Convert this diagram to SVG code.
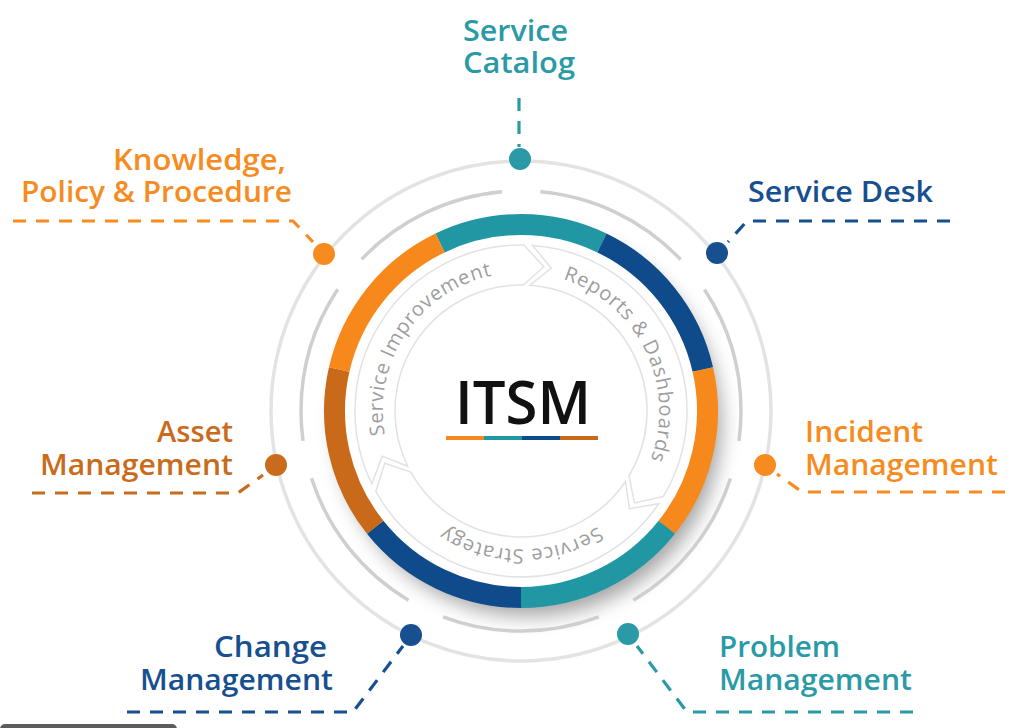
<svg xmlns="http://www.w3.org/2000/svg" width="1024" height="728" viewBox="0 0 1024 728">
<style>
.lbl{font-family:"Open Sans","Liberation Sans",sans-serif;font-size:28px;font-weight:600}
.teal{fill:#2a9aa6}.blue{fill:#174f8f}.orange{fill:#f68c1f}.brown{fill:#c96b1c}
.con{fill:none;stroke-width:3.2;stroke-dasharray:13 10}
.ctext{font-family:"Open Sans","Liberation Sans",sans-serif;font-size:20px;fill:#9d9d9d}
.arrow{fill:none;stroke:#e2e2e2;stroke-width:1.5}
.seg{fill:none;stroke-width:21}
</style>
<defs>
<filter id="sh" x="-30%" y="-30%" width="160%" height="160%"><feGaussianBlur stdDeviation="10"/></filter>
<path id="cpath" d="M401.49,480 A138,138 0 1 1 640.51,342 A138,138 0 1 1 401.49,480"/>
</defs>
<rect width="1024" height="728" fill="#ffffff"/>

<g id="background-rings">
<circle cx="521" cy="411" r="250" fill="none" stroke="#e3e3e3" stroke-width="3.5"/>
<circle cx="529" cy="424" r="192" fill="#000" opacity="0.36" filter="url(#sh)"/>
<path d="M741,411 A220,220 0 1 1 301,411 A220,220 0 1 1 741,411" fill="none" stroke="#cfcfcf" stroke-width="3.5" stroke-dasharray="159.07 38.4" stroke-dashoffset="128.9"/>
</g>

<g id="hub">
<circle cx="521" cy="411" r="180" fill="#ffffff"/>
<path class="seg" stroke="#2297a4" d="M440.08,242.97 A186.5,186.5 0 0 1 601.92,242.97"/>
<path class="seg" stroke="#0f4a8a" d="M601.92,242.97 A186.5,186.5 0 0 1 702.82,369.5"/>
<path class="seg" stroke="#f7891c" d="M702.82,369.5 A186.5,186.5 0 0 1 666.81,527.28"/>
<path class="seg" stroke="#2297a4" d="M666.81,527.28 A186.5,186.5 0 0 1 521,597.5"/>
<path class="seg" stroke="#0f4a8a" d="M521,597.5 A186.5,186.5 0 0 1 375.19,527.28"/>
<path class="seg" stroke="#c86a1a" d="M375.19,527.28 A186.5,186.5 0 0 1 339.18,369.5"/>
<path class="seg" stroke="#f7891c" d="M339.18,369.5 A186.5,186.5 0 0 1 440.08,242.97"/>
<path class="arrow" d="M371.8,483.77 A166,166 0 0 1 523.9,245.03 L543.84,266.8 L523.2,285.02 A126,126 0 0 0 407.75,466.23 L382.15,456.12 Z"/>
<path class="arrow" d="M532.58,245.4 A166,166 0 0 1 663.29,496.5 L634.46,502.88 L629,475.89 A126,126 0 0 0 529.79,285.31 L551.36,268.19 Z"/>
<path class="arrow" d="M658.62,503.83 A166,166 0 0 1 375.81,491.48 L384.7,463.32 L410.8,472.09 A126,126 0 0 0 625.46,481.46 L629.5,508.69 Z"/>
<text class="ctext" textLength="212" lengthAdjust="spacing"><textPath href="#cpath" startOffset="48.2">Service Improvement</textPath></text>
<text class="ctext" textLength="224" lengthAdjust="spacing"><textPath href="#cpath" startOffset="332.4">Reports &amp; Dashboards</textPath></text>
<text class="ctext" textLength="161" lengthAdjust="spacing"><textPath href="#cpath" startOffset="643.1">Service Strategy</textPath></text>
<text x="455" y="424" textLength="136" lengthAdjust="spacingAndGlyphs" font-family="'Open Sans','Liberation Sans',sans-serif" font-size="60" font-weight="600" fill="#111111">ITSM</text>
<g stroke-width="4">
<line x1="446" y1="438" x2="484" y2="438" stroke="#f7891c"/>
<line x1="484" y1="438" x2="522" y2="438" stroke="#2297a4"/>
<line x1="522" y1="438" x2="560" y2="438" stroke="#0f4a8a"/>
<line x1="560" y1="438" x2="598" y2="438" stroke="#c86a1a"/>
</g>
</g>

<g id="connectors">
<path class="con" stroke="#2a9aa6" d="M519,98 V147"/>
<path class="con" stroke="#174f8f" d="M950,221 H747 L728,242"/>
<path class="con" stroke="#f68c1f" d="M1005,492 H802 L777,474"/>
<path class="con" stroke="#2a9aa6" d="M913,712 H687 L637,646"/>
<path class="con" stroke="#174f8f" d="M127,712 H353 L403,646"/>
<path class="con" stroke="#c96b1c" d="M32,493 H238 L263,475"/>
<path class="con" stroke="#f68c1f" d="M13,221 H293 L313,242"/>
</g>

<g id="service-catalog">
<circle cx="520" cy="159" r="11" class="teal"/>
<text class="lbl teal" x="463" y="41" textLength="105" lengthAdjust="spacingAndGlyphs">Service</text>
<text class="lbl teal" x="463" y="73" textLength="112" lengthAdjust="spacingAndGlyphs">Catalog</text>
</g>
<g id="service-desk">
<circle cx="717" cy="253" r="11" class="blue"/>
<text class="lbl blue" x="748" y="202" textLength="185" lengthAdjust="spacingAndGlyphs">Service Desk</text>
</g>
<g id="incident-management">
<circle cx="765" cy="465" r="11" class="orange"/>
<text class="lbl orange" x="805" y="442" textLength="118" lengthAdjust="spacingAndGlyphs">Incident</text>
<text class="lbl orange" x="805" y="475" textLength="193" lengthAdjust="spacingAndGlyphs">Management</text>
</g>
<g id="problem-management">
<circle cx="628" cy="634" r="11" class="teal"/>
<text class="lbl teal" x="719" y="657" textLength="121" lengthAdjust="spacingAndGlyphs">Problem</text>
<text class="lbl teal" x="719" y="690" textLength="193" lengthAdjust="spacingAndGlyphs">Management</text>
</g>
<g id="change-management">
<circle cx="411" cy="635" r="11" class="blue"/>
<text class="lbl blue" x="214" y="657" textLength="113" lengthAdjust="spacingAndGlyphs">Change</text>
<text class="lbl blue" x="140" y="690" textLength="193" lengthAdjust="spacingAndGlyphs">Management</text>
</g>
<g id="asset-management">
<circle cx="276" cy="465" r="11" class="brown"/>
<text class="lbl brown" x="157" y="442" textLength="76" lengthAdjust="spacingAndGlyphs">Asset</text>
<text class="lbl brown" x="40" y="475" textLength="193" lengthAdjust="spacingAndGlyphs">Management</text>
</g>
<g id="knowledge-policy-procedure">
<circle cx="324" cy="254" r="11" class="orange"/>
<text class="lbl orange" x="113" y="170" textLength="173" lengthAdjust="spacingAndGlyphs">Knowledge,</text>
<text class="lbl orange" x="21" y="202" textLength="271" lengthAdjust="spacingAndGlyphs">Policy &amp; Procedure</text>
</g>
<rect x="0" y="724" width="177" height="10" rx="5" fill="#5c5c5c"/>
</svg>
